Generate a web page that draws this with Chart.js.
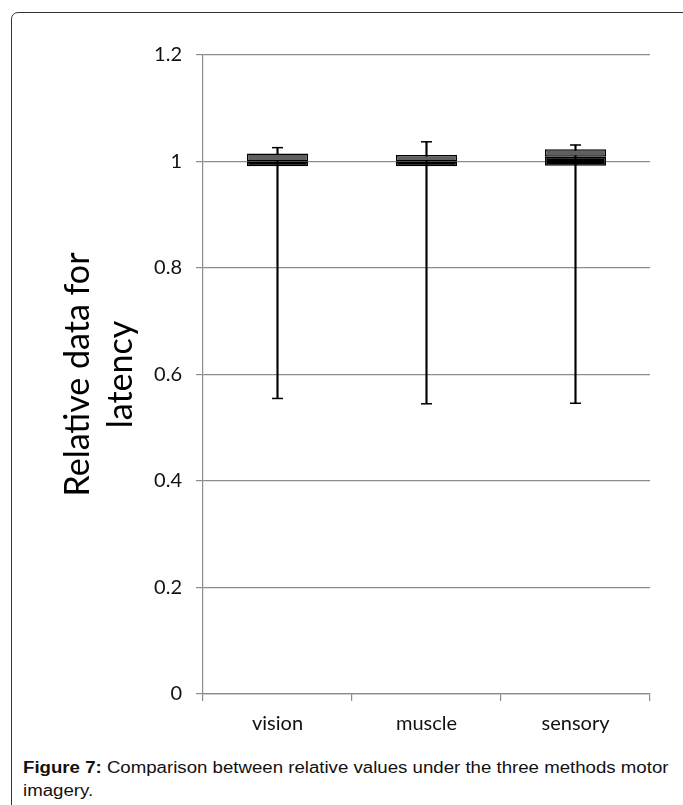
<!DOCTYPE html>
<html>
<head>
<meta charset="utf-8">
<script src="https://cdn.jsdelivr.net/npm/chart.js@4.4.1/dist/chart.umd.min.js"></script>
<style>
  html, body { margin: 0; padding: 0; background: #fff; }
  body { width: 683px; height: 805px; position: relative; overflow: hidden; }
  #frame {
    position: absolute; left: 11px; top: 12px; width: 720px; height: 840px;
    border: 1px solid #333; border-radius: 7px; box-sizing: border-box;
  }
  #chart { position: absolute; left: 0; top: 0; }
  #caption {
    position: absolute; left: 23px; top: 756px; width: 560px;
    font-family: "Liberation Sans", Arial, sans-serif; font-size: 16px;
    line-height: 23px; color: #111;
    transform: scaleX(1.165); transform-origin: left top;
  }
</style>
</head>
<body>
<div id="frame"></div>
<canvas id="chart" width="683" height="750"></canvas>
<div id="caption"><b>Figure 7:</b> Comparison between relative values under the three methods motor<br>imagery.</div>
<script>
// Box plot values
const categories = ['vision', 'muscle', 'sensory'];
const minValues = [0.555, 0.545, 0.546];
const q1Values = [0.991, 0.991, 0.992];
const medianValues = [1.000, 1.000, 1.009];
const q3Values = [1.015, 1.012, 1.023];
const maxValues = [1.026, 1.037, 1.031];
const yTicks = [0, 0.2, 0.4, 0.6, 0.8, 1, 1.2];

const upperBox = categories.map((c, i) => [medianValues[i], q3Values[i]]);
const lowerBox = categories.map((c, i) => [q1Values[i], medianValues[i]]);
const whiskers = categories.map((c, i) => [minValues[i], maxValues[i]]);

const gridGray = '#8c8c8c';
const fontFamily = 'Lato, "Open Sans", sans-serif';

new Chart(document.getElementById('chart'), {
    type: 'bar',
    data: {
        labels: categories,
        datasets: [
            {
                // median -> Q3
                data: upperBox,
                backgroundColor: '#5f5f5f',
                borderColor: '#000',
                borderWidth: 1.5,
                borderSkipped: false,
                barPercentage: 0.41,
                categoryPercentage: 1,
                grouped: false
            },
            {
                // Q1 -> median
                data: lowerBox,
                backgroundColor: '#000',
                borderColor: '#000',
                borderWidth: 1.5,
                borderSkipped: false,
                barPercentage: 0.41,
                categoryPercentage: 1,
                grouped: false
            },
            {
                // top caps
                type: 'line',
                data: maxValues,
                showLine: false,
                pointStyle: 'line',
                pointRadius: 5.5,
                pointHoverRadius: 5.5,
                borderColor: '#000',
                borderWidth: 1.5
            },
            {
                // bottom caps
                type: 'line',
                data: minValues,
                showLine: false,
                pointStyle: 'line',
                pointRadius: 5.5,
                pointHoverRadius: 5.5,
                borderColor: '#000',
                borderWidth: 1.5
            },
            {
                // whisker stems (drawn first, under the boxes)
                data: whiskers,
                backgroundColor: '#000',
                borderWidth: 0,
                barThickness: 1.5,
                grouped: false
            }
        ]
    },
    options: {
        responsive: false,
        animation: false,
        layout: { padding: { left: 20, top: 55, right: 33, bottom: 0 } },
        plugins: {
            legend: { display: false },
            tooltip: { enabled: false }
        },
        scales: {
            x: {
                offset: true,
                grid: {
                    drawOnChartArea: false,
                    drawTicks: true,
                    tickLength: 7,
                    color: gridGray,
                    lineWidth: 1.2,
                    offset: true
                },
                border: { color: gridGray, width: 1.2 },
                ticks: {
                    color: '#111',
                    padding: 11,
                    font: { family: fontFamily, size: 20 }
                },
                afterFit: (scale) => { scale.height = 56; }
            },
            y: {
                min: 0,
                max: 1.2,
                afterBuildTicks: (scale) => {
                    scale.ticks = yTicks.map(v => ({ value: v }));
                },
                grid: {
                    color: gridGray,
                    lineWidth: 1.2,
                    tickLength: 7,
                    drawTicks: true
                },
                border: { color: gridGray, width: 1.2 },
                ticks: {
                    color: '#111',
                    padding: 14,
                    font: { family: fontFamily, size: 20 },
                    callback: (v) => String(Math.round(v * 10) / 10)
                },
                title: {
                    display: true,
                    text: ['Relative data for', 'latency'],
                    color: '#000',
                    font: { family: fontFamily, size: 34, lineHeight: 1.25 },
                    padding: { top: 37, bottom: 0 }
                },
                afterFit: (scale) => { scale.width = 183; }
            }
        }
    }
});
</script>
</body>
</html>
